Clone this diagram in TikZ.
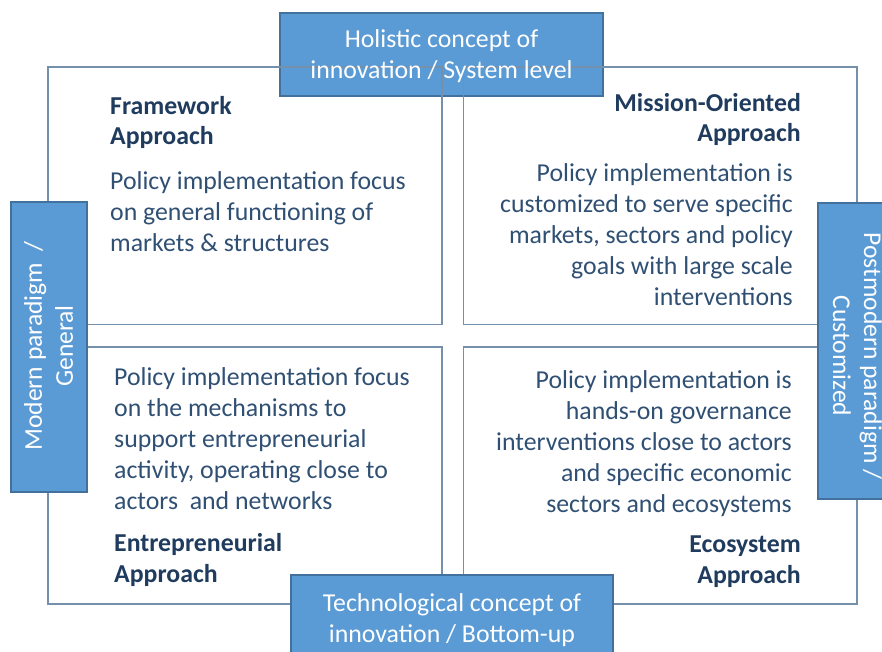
\documentclass[tikz,border=0pt]{standalone}
\usepackage{fontspec}
\setmainfont{Carlito}
\definecolor{boxfill}{HTML}{5B9BD5}
\definecolor{boxline}{HTML}{41719C}
\definecolor{quadline}{HTML}{7490AA}
\definecolor{titlecol}{HTML}{1F3B5E}
\definecolor{bodycol}{HTML}{2F4F73}
\tikzset{
  bluebox/.style={draw=boxline, line width=1.2pt, fill=boxfill, inner sep=0pt},
  quad/.style={draw=quadline, line width=1.7pt, inner sep=0pt},
  boxtext/.style={text=white, align=center, inner sep=0pt, font=\fontsize{25.8}{31}\selectfont},
  sidetext/.style={text=white, align=center, inner sep=0pt, font=\fontsize{25.6}{31}\selectfont},
  titletext/.style={text=titlecol, inner sep=0pt, font=\bfseries\fontsize{25.8}{30.5}\selectfont},
  bodytext/.style={text=bodycol, inner sep=0pt, font=\fontsize{25.8}{31}\selectfont},
}
\begin{document}
\begin{tikzpicture}[x=1pt,y=-1pt]
\useasboundingbox (0,0) rectangle (882,652);
\clip (0,0) rectangle (882,652);
% top box (below the quadrant lines)
\node[bluebox, minimum width=323pt, minimum height=83pt] (topbox) at (441.5,54.5) {};
% quadrants
\node[quad, minimum width=394pt, minimum height=257.5pt] (tl) at (245,195.75) {};
\node[quad, minimum width=393.5pt, minimum height=257.5pt] (tr) at (660.25,195.75) {};
\node[quad, minimum width=394pt, minimum height=257pt] (bl) at (245,475.5) {};
\node[quad, minimum width=393.5pt, minimum height=257pt] (br) at (660.25,475.5) {};
% side and bottom boxes
\node[bluebox, minimum width=76pt, minimum height=290pt] (leftbox) at (49,347) {};
\node[bluebox, minimum width=80pt, minimum height=296pt] (rightbox) at (858,351) {};
\node[bluebox, minimum width=322pt, minimum height=90pt] (botbox) at (452,620) {};
% box texts (base anchor = baseline of the last line)
\node[boxtext, anchor=base] (toptext) at (441.5,79) {Holistic concept of\\innovation / System level};
\node[boxtext, anchor=base] (bottext) at (452,642) {Technological concept of\\innovation / Bottom-up};
\node[sidetext, rotate=90] (lefttext) at (48.5,346) {Modern paradigm\ \ /\\General};
\node[sidetext, rotate=-90] (righttext) at (857.5,356) {Postmodern paradigm /\\Customized};
% quadrant texts
\node[titletext, anchor=base west, align=left] (tltitle) at (110,145) {Framework\\Approach};
\node[bodytext, anchor=base west, align=left] (tlbody) at (110,251) {Policy implementation focus\\on general functioning of\\markets \& structures};
\node[titletext, anchor=base east, align=right] (trtitle) at (801,142) {Mission-Oriented\\Approach};
\node[bodytext, anchor=base east, align=right] (trbody) at (793,305) {Policy implementation is\\customized to serve specific\\markets, sectors and policy\\goals with large scale\\interventions};
\node[bodytext, anchor=base west, align=left] (blbody) at (114,509) {Policy implementation focus\\on the mechanisms to\\support entrepreneurial\\activity, operating close to\\actors\ \ and networks};
\node[titletext, anchor=base west, align=left] (bltitle) at (114,582) {Entrepreneurial\\Approach};
\node[bodytext, anchor=base east, align=right] (brbody) at (792,512) {Policy implementation is\\hands-on governance\\interventions close to actors\\and specific economic\\sectors and ecosystems};
\node[titletext, anchor=base east, align=right] (brtitle) at (801,583) {Ecosystem\\Approach};
\end{tikzpicture}
\end{document}
